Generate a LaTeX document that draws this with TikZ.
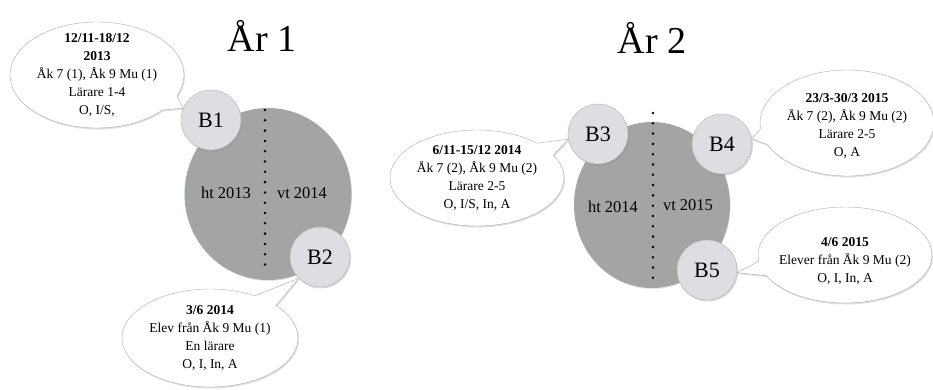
\documentclass[tikz,border=0pt]{standalone}
\usepackage{fontspec}
\setmainfont{Liberation Serif}
\usetikzlibrary{shapes.geometric,shapes.callouts,shadows,backgrounds}
\definecolor{halvgra}{RGB}{163,165,164}
\definecolor{ringfyll}{RGB}{221,222,225}
\definecolor{ringkant}{RGB}{178,178,181}
\definecolor{bubbelkant}{RGB}{172,172,172}
\tikzset{%
	halvar/.style  = {ellipse, fill=halvgra, inner sep=0pt, drop shadow={shadow xshift=0.5pt, shadow yshift=-1pt, opacity=0.2}},
	besok/.style   = {circle, draw=ringkant, fill=ringfyll, minimum size=60pt, inner sep=0pt, font=\fontsize{22}{22}\selectfont, drop shadow={shadow xshift=1pt, shadow yshift=-1.5pt, opacity=0.3}},
	bubbla/.style  = {ellipse callout, draw=bubbelkant, fill=white, inner sep=0pt, callout pointer arc=18, drop shadow={shadow xshift=1pt, shadow yshift=-1.5pt, opacity=0.25}},
	info/.style    = {align=center, inner sep=0pt, font=\fontsize{13.5}{18}\selectfont},
	termin/.style  = {font=\fontsize{16.5}{16.5}\selectfont},
	rubrik/.style  = {font=\fontsize{38}{38}\selectfont},
	prickad/.style = {line width=2.8pt, line cap=round, dash pattern=on 0pt off 10.3pt},
}

\begin{document}
\begin{tikzpicture}[x=1pt,y=-1pt]
	\useasboundingbox (0,0) rectangle (933,389);
	
	% År 1
	\node[rubrik] (ar1) at (262,36) {År 1};
	\node[halvar, minimum width=167pt, minimum height=172pt] (g1) at (268,194) {};
	\draw[prickad] (265,110) -- (265,273);
	\node[termin] (ht1) at (226,193) {ht 2013};
	\node[termin] (vt1) at (302,193) {vt 2014};
	\node[besok] (b1) at (211,120) {B1};
	\node[besok] (b2) at (320,257) {B2};
	
	% År 2
	\node[rubrik] (ar2) at (652,38) {År 2};
	\node[halvar, minimum width=156pt, minimum height=166pt] (g2) at (652,205) {};
	\draw[prickad] (653,113) -- (653,287);
	\node[termin] (ht2) at (613,207) {ht 2014};
	\node[termin] (vt2) at (688,205) {vt 2015};
	\node[besok] (b3) at (598,134) {B3};
	\node[besok] (b4) at (722,144) {B4};
	\node[besok] (b5) at (707,270) {B5};
	
	\begin{pgfonlayer}{background}
		\node[bubbla, minimum width=174pt, minimum height=106pt, callout absolute pointer={(b1.157)}] (k1) at (97,75) {};
		\node[bubbla, minimum width=176pt, minimum height=98pt, callout absolute pointer={(b2.225)}] (k2) at (210,338) {};
		\node[bubbla, minimum width=174pt, minimum height=96pt, callout absolute pointer={(b3.190)}] (k3) at (477,178) {};
		\node[bubbla, minimum width=174pt, minimum height=106pt, callout absolute pointer={(b4.10)}] (k4) at (847,123) {};
		\node[bubbla, minimum width=174pt, minimum height=96pt, callout absolute pointer={(b5.-5)}] (k5) at (845,255) {};
	\end{pgfonlayer}
	
	\node[info] (t1) at (k1.center) {\textbf{12/11-18/12}\\ \textbf{2013}\\ Åk 7 (1), Åk 9 Mu (1)\\ Lärare 1-4\\ O, I/S,};
	\node[info] (t2) at (k2.center) {\textbf{3/6 2014}\\ Elev från Åk 9 Mu (1)\\ En lärare\\ O, I, In, A};
	\node[info] (t3) at (k3.center) {\textbf{6/11-15/12 2014}\\ Åk 7 (2), Åk 9 Mu (2)\\ Lärare 2-5\\ O, I/S, In, A};
	\node[info,yshift=-3pt] (t4) at (k4.center) {\textbf{23/3-30/3 2015}\\ Åk 7 (2), Åk 9 Mu (2)\\ Lärare 2-5\\ O, A};
	\node[info,yshift=-6pt] (t5) at (k5.center) {\textbf{4/6 2015}\\ Elever från Åk 9 Mu (2)\\ O, I, In, A};
\end{tikzpicture}
\end{document}
